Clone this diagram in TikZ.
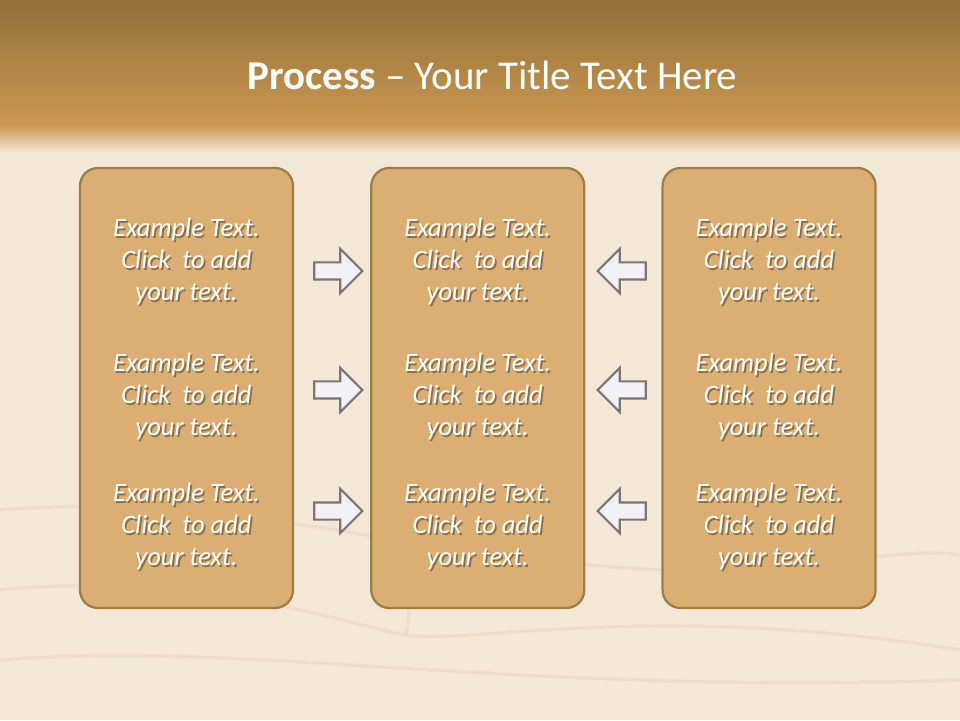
\documentclass[tikz,border=0pt]{standalone}
\usepackage{fontspec}
\setmainfont{Carlito}
\usepackage{tikz}
\usetikzlibrary{shapes.arrows, positioning, calc}
\definecolor{bandtop}{RGB}{147,112,58}
\definecolor{bandbot}{RGB}{203,151,80}
\definecolor{woodlight}{RGB}{243,231,214}
\definecolor{grain}{RGB}{226,208,182}
\definecolor{boxfill}{RGB}{219,175,115}
\definecolor{boxedge}{RGB}{158,124,72}
\definecolor{arrowfill}{RGB}{242,242,246}
\definecolor{arrowedge}{RGB}{122,118,114}
\tikzset{
  stepcol/.style={rectangle, draw=boxedge, line width=1.3pt, fill=boxfill, rounded corners=0.36cm, minimum width=4.26cm, minimum height=8.8cm},
  itemtext/.style={text=white, font=\fontsize{15.1}{18.2}\selectfont\itshape, align=center},
  itemshadow/.style={itemtext, text=black!75!boxedge, text opacity=0.45},
  flowarrow/.style={single arrow, draw=arrowedge, fill=arrowfill, line width=1.2pt, minimum height=0.96cm, inner xsep=0pt, inner ysep=0.15cm, single arrow head extend=0.27cm, single arrow head indent=0pt},
  grainline/.style={draw=grain, line width=2pt, opacity=0.35},
}
\newcommand{\itemnode}[2]{%
  \node[itemshadow] at ($(#2)+(0.035,-0.05)$) {Example Text.\\Click\ \ to add\\your text.};
  \node[itemtext] (#1) at (#2) {Example Text.\\Click\ \ to add\\your text.};}

\begin{document}
\begin{tikzpicture}
  \useasboundingbox (0,0) rectangle (19.2,14.4);

  % Background
  \fill[woodlight] (0,0) rectangle (19.2,14.4);
  \draw[grainline] (0,4.2) .. controls (5,4.6) and (8,3.2) .. (13.4,3.0) .. controls (16,2.9) and (18,3.5) .. (19.2,3.3);
  \draw[grainline] (0,2.6) .. controls (4,3.0) and (7,1.9) .. (8.1,1.7) .. controls (9.5,1.5) and (13,2.4) .. (19.2,1.4);
  \draw[grainline] (0,1.2) .. controls (5,1.6) and (10,0.5) .. (19.2,0.8);
  \draw[grainline] (8.2,3.1) .. controls (8.0,2.6) and (8.3,2.2) .. (8.1,1.7);
  \shade[top color=bandtop, bottom color=bandbot] (0,14.4) rectangle (19.2,11.9);
  \shade[top color=bandbot, bottom color=woodlight] (0,11.9) rectangle (19.2,11.35);

  % Title
  \node[text=white, font=\fontsize{23.3}{28}\selectfont] (title) at (9.85,12.9) {\textbf{Process} -- Your Title Text Here};

  % Columns
  \node[stepcol] (col1) at (3.73,6.64) {};
  \node[stepcol, right=1.52cm of col1] (col2) {};
  \node[stepcol, right=1.52cm of col2] (col3) {};

  % Texts
  \itemnode{t11}{$(col1.center)+(0,2.54)$}
  \itemnode{t12}{$(col1.center)+(0,-0.16)$}
  \itemnode{t13}{$(col1.center)+(0,-2.76)$}
  \itemnode{t21}{$(col2.center)+(0,2.54)$}
  \itemnode{t22}{$(col2.center)+(0,-0.16)$}
  \itemnode{t23}{$(col2.center)+(0,-2.76)$}
  \itemnode{t31}{$(col3.center)+(0,2.54)$}
  \itemnode{t32}{$(col3.center)+(0,-0.16)$}
  \itemnode{t33}{$(col3.center)+(0,-2.76)$}

  % Arrows
  \node[flowarrow] (a1) at (6.68,8.98) {};
  \node[flowarrow] (a2) at (6.68,6.60) {};
  \node[flowarrow] (a3) at (6.68,4.18) {};
  \node[flowarrow, shape border rotate=180] (b1) at (12.52,8.98) {};
  \node[flowarrow, shape border rotate=180] (b2) at (12.52,6.60) {};
  \node[flowarrow, shape border rotate=180] (b3) at (12.52,4.18) {};
\end{tikzpicture}
\end{document}
